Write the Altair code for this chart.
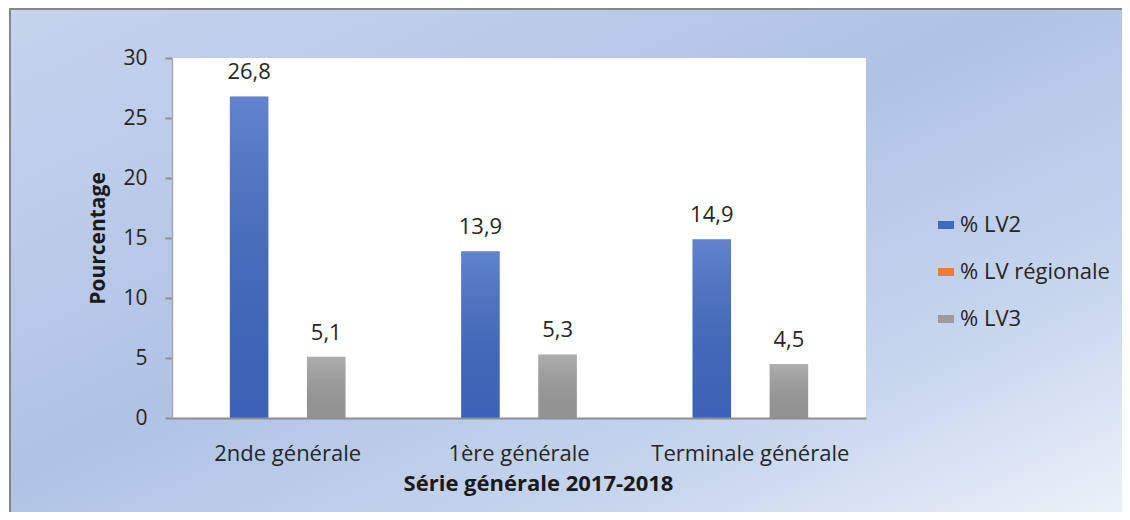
import altair as alt
import pandas as pd

categories = ["2nde générale", "1ère générale", "Terminale générale"]
series = ["% LV2", "% LV régionale", "% LV3"]
lv2 = [26.8, 13.9, 14.9]
lv_regionale = [0.0, 0.0, 0.0]
lv3 = [5.1, 5.3, 4.5]
colors = ["#3F69C2", "#ED7D31", "#9C9C9C"]
y_ticks = [0, 5, 10, 15, 20, 25, 30]

rows = []
for i, c in enumerate(categories):
    for s, vals in zip(series, [lv2, lv_regionale, lv3]):
        v = vals[i]
        rows.append({"cat": c, "serie": s, "val": v,
                     "lab": ("%.1f" % v).replace(".", ",") if v > 0 else ""})
df = pd.DataFrame(rows)

FONT = "Open Sans"
W, H = 694, 360

bg = alt.Chart(pd.DataFrame({"k": [0]})).mark_rect(
    fill=alt.Gradient(gradient="linear", x1=0, y1=0, x2=1, y2=1, stops=[
        alt.GradientStop(offset=0, color="#C6D3ED"),
        alt.GradientStop(offset=0.45, color="#B0C3E5"),
        alt.GradientStop(offset=0.75, color="#C8D6EE"),
        alt.GradientStop(offset=1, color="#F0F4FA"),
    ]),
    stroke="#878787", strokeWidth=2,
).encode(x=alt.value(-162), x2=alt.value(970), y=alt.value(-49), y2=alt.value(470))

plot_bg = alt.Chart(pd.DataFrame({"k": [0]})).mark_rect(fill="white").encode(
    x=alt.value(0), x2=alt.value(W), y=alt.value(0), y2=alt.value(H))

x_enc = alt.X("cat:N", sort=categories,
              scale=alt.Scale(paddingInner=0.5, paddingOuter=0.25),
              axis=alt.Axis(title="Série générale 2017-2018", labelAngle=0,
                            tickSize=0, labelPadding=25, labelFontSize=22,
                            labelLimit=400, labelOverlap=False,
                            labelFont=FONT, labelColor="#262626",
                            domainColor="#8E8E8E", domainWidth=2,
                            titleFont=FONT, titleFontSize=22, titleFontWeight="bold",
                            titleColor="#1A1A1A", titleX=366, titleY=72,
                            titleBaseline="alphabetic", titleAlign="center",
                            zindex=1))
xo = alt.XOffset("serie:N", sort=series,
                 scale=alt.Scale(paddingInner=0, paddingOuter=0))
y_enc = alt.Y("val:Q", scale=alt.Scale(domain=[0, 30]),
              axis=alt.Axis(title="Pourcentage", values=y_ticks, grid=False,
                            tickSize=7, tickColor="#8E8E8E", tickWidth=2,
                            domainColor="#A8A8A8", domainWidth=1.5,
                            labelPadding=18, labelFontSize=21, labelFont=FONT,
                            labelColor="#262626",
                            titleFont=FONT, titleFontSize=21, titleFontWeight="bold",
                            titleColor="#1A1A1A", titleX=-74, titleY=180,
                            titleAngle=270, titleAlign="center",
                            titleBaseline="middle", zindex=1))

bars = alt.Chart(df).mark_bar().encode(
    x=x_enc, xOffset=xo, y=y_enc,
    color=alt.Color("serie:N", sort=series,
                    scale=alt.Scale(domain=series, range=colors),
                    legend=alt.Legend(title=None, orient="none", legendX=763,
                                      legendY=156, padding=0,
                                      symbolType="M-1,-0.5L1,-0.5L1,0.5L-1,0.5Z",
                                      symbolSize=256, symbolStrokeWidth=0,
                                      labelFont=FONT, labelFontSize=22,
                                      labelColor="#262626", labelOffset=3,
                                      labelLimit=300,
                                      rowPadding=25, zindex=1)),
)

shine = alt.Chart(df).mark_bar(
    fill=alt.Gradient(gradient="linear", x1=0, y1=0, x2=0, y2=1, stops=[
        alt.GradientStop(offset=0, color="rgba(255,255,255,0.18)"),
        alt.GradientStop(offset=1, color="rgba(0,0,0,0.06)"),
    ])
).encode(x=alt.X("cat:N", sort=categories), xOffset=xo, y=alt.Y("val:Q"))

labels = alt.Chart(df).mark_text(
    baseline="alphabetic", dy=-17, fontSize=22, font=FONT, color="#262626"
).encode(x=alt.X("cat:N", sort=categories), xOffset=xo, y=alt.Y("val:Q"),
         text="lab:N")

chart = alt.layer(bg, plot_bg, bars, shine, labels).properties(
    width=W, height=H, autosize="none",
    padding={"left": 164, "top": 50, "right": 256, "bottom": 94},
).configure_view(stroke=None, fill=None)

chart.save("out.html", embed_options={"renderer": "svg", "actions": False})
